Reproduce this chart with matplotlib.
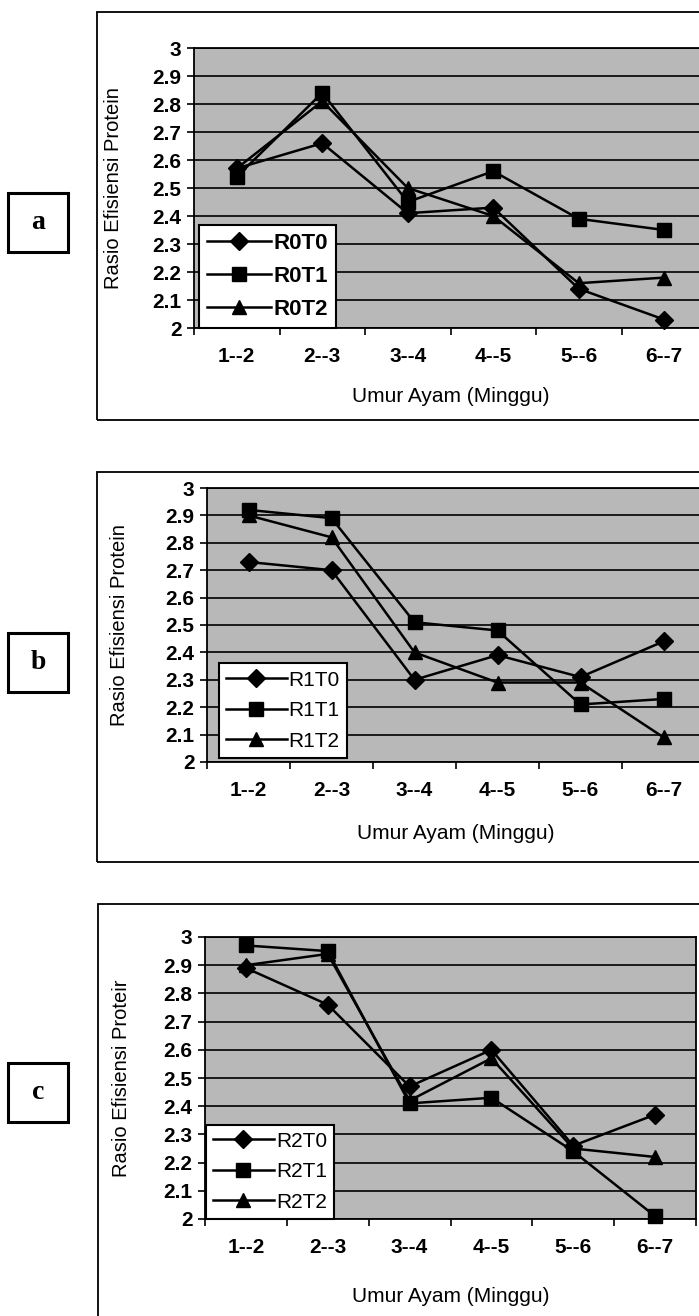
import matplotlib
matplotlib.use("Agg")
import matplotlib.pyplot as plt
from matplotlib.patches import Rectangle
from matplotlib.ticker import FormatStrFormatter
import numpy as np

plt.rcParams['font.family'] = ['Liberation Sans', 'DejaVu Sans']

# --- data ---
ages_a = ['1--2', '2--3', '3--4', '4--5', '5--6', '6--7']
ages_b = ['1--2', '2--3', '3--4', '4--5', '5--6', '6--7']
ages_c = ['1--2', '2--3', '3--4', '4--5', '5--6', '6--7']

names_a = ['R0T0', 'R0T1', 'R0T2']
r0t0 = [2.57, 2.66, 2.41, 2.43, 2.14, 2.03]
r0t1 = [2.54, 2.84, 2.45, 2.56, 2.39, 2.35]
r0t2 = [2.57, 2.81, 2.50, 2.40, 2.16, 2.18]

names_b = ['R1T0', 'R1T1', 'R1T2']
r1t0 = [2.73, 2.70, 2.30, 2.39, 2.31, 2.44]
r1t1 = [2.92, 2.89, 2.51, 2.48, 2.21, 2.23]
r1t2 = [2.90, 2.82, 2.40, 2.29, 2.29, 2.09]

names_c = ['R2T0', 'R2T1', 'R2T2']
r2t0 = [2.89, 2.76, 2.47, 2.60, 2.26, 2.37]
r2t1 = [2.97, 2.95, 2.41, 2.43, 2.24, 2.01]
r2t2 = [2.90, 2.94, 2.42, 2.57, 2.25, 2.22]

ylabels = ['Rasio Efisiensi Protein', 'Rasio Efisiensi Protein', 'Rasio Efisiensi Proteir']
xlabel = 'Umur Ayam (Minggu)'
letters = ['a', 'b', 'c']

W, H = 699, 1316
fig = plt.figure(figsize=(W / 100, H / 100), dpi=100)


def fx(px):
    return px / W


def fy(py):
    return 1 - py / H


# pixel boxes: (left, top, right, bottom) of plot area
plot_boxes = [(194, 48, 707, 328), (207, 488, 705, 762), (205, 937, 696, 1219)]
frame_boxes = [(97, 12, 730, 420), (97, 472, 730, 862), (98, 904, 730, 1340)]
letter_boxes = [(8, 193, 68, 252), (8, 633, 68, 692), (8, 1063, 68, 1122)]
ylab_x = [-0.138, -0.157, -0.151]
leg_anchor = [(0.01, 0.0), (0.024, 0.015), (0.002, 0.0)]
leg_size = [16, 15, 15]
xlab_pad = [15, 17, 21]

panels = [
    (ages_a, names_a, [r0t0, r0t1, r0t2]),
    (ages_b, names_b, [r1t0, r1t1, r1t2]),
    (ages_c, names_c, [r2t0, r2t1, r2t2]),
]
markers = [('D', 9.5), ('s', 9.5), ('^', 10.5)]

for i, (ages, names, series) in enumerate(panels):
    # outer chart frame
    l, t, r, b = frame_boxes[i]
    fig.add_artist(Rectangle((fx(l), fy(b)), fx(r) - fx(l), fy(t) - fy(b),
                             transform=fig.transFigure, fill=False,
                             edgecolor='black', lw=1.3))
    # letter box
    l, t, r, b = letter_boxes[i]
    fig.add_artist(Rectangle((fx(l), fy(b)), fx(r) - fx(l), fy(t) - fy(b),
                             transform=fig.transFigure, fill=False,
                             edgecolor='black', lw=2.2))
    fig.text(fx((l + r) / 2), fy((t + b) / 2), letters[i], ha='center', va='center',
             fontsize=20, fontweight='bold', family='Liberation Serif')

    l, t, r, b = plot_boxes[i]
    ax = fig.add_axes([fx(l), fy(b), fx(r) - fx(l), fy(t) - fy(b)])
    ax.set_facecolor('#b8b8b8')
    x = np.arange(1, len(ages) + 1)
    for vals, name, (m, ms) in zip(series, names, markers):
        ax.plot(x, vals, color='black', lw=1.8, marker=m, markersize=ms,
                markerfacecolor='black', markeredgecolor='black', label=name,
                clip_on=False, zorder=3)

    ax.set_xlim(0.5, len(ages) + 0.5)
    ax.set_ylim(2, 3)
    ax.set_yticks(np.round(np.arange(2, 3.01, 0.1), 1))
    ax.yaxis.set_major_formatter(FormatStrFormatter('%g'))
    ax.set_xticks(x)
    ax.set_xticklabels(ages)
    ax.set_xticks(np.arange(0.5, len(ages) + 1, 1.0), minor=True)
    ax.tick_params(axis='x', which='major', length=0, pad=14, labelsize=15)
    ax.tick_params(axis='x', which='minor', length=5, width=1.2, direction='out')
    ax.tick_params(axis='y', length=5, width=1.2, pad=4, labelsize=15)
    for lbl in ax.get_xticklabels() + ax.get_yticklabels():
        lbl.set_fontweight('bold')
    ax.grid(axis='y', color='black', lw=1.2)
    ax.set_axisbelow(True)
    for s in ax.spines.values():
        s.set_color('black')
        s.set_linewidth(1.3)

    ax.set_xlabel(xlabel, fontsize=15, labelpad=xlab_pad[i])
    ax.set_ylabel(ylabels[i], fontsize=14.5)
    ax.yaxis.set_label_coords(ylab_x[i], 0.5)

    leg = ax.legend(loc='lower left', bbox_to_anchor=leg_anchor[i], borderaxespad=0,
                    fontsize=leg_size[i], frameon=True, fancybox=False, handlelength=2.9,
                    handletextpad=0.1, labelspacing=0.55, borderpad=0.35,
                    framealpha=1, edgecolor='black')
    leg.get_frame().set_linewidth(1.5)
    if i == 0:
        for txt in leg.get_texts():
            txt.set_fontweight('bold')

fig.savefig('out.png', dpi=100)
